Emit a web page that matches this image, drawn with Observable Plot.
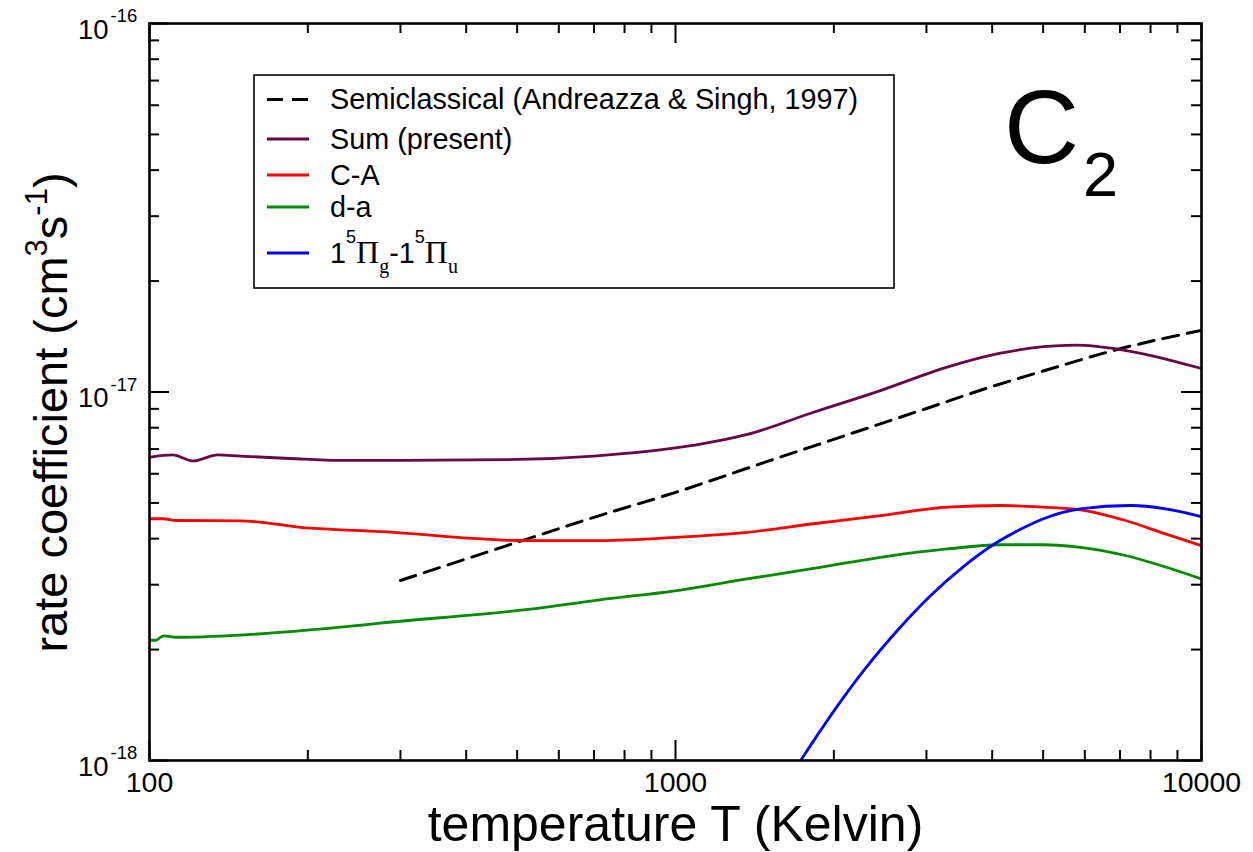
<!DOCTYPE html>
<html>
<head>
<meta charset="utf-8">
<script src="https://cdn.jsdelivr.net/npm/d3@7"></script>
<script src="https://cdn.jsdelivr.net/npm/@observablehq/plot@0.6"></script>
<style>
  html, body { margin: 0; padding: 0; background: #fff; overflow: hidden; }
</style>
</head>
<body>
<div id="chart"></div>
<script>
// Temperatures (K) and rate coefficients (cm^3 s^-1) for each curve
const tSemi = [300, 500, 700, 1000, 1500, 2000, 3000, 4000, 5000, 7000, 10000];
const kSemi = [3.08e-18, 3.91e-18, 4.57e-18, 5.34e-18, 6.49e-18, 7.44e-18, 9.02e-18, 1.035e-17, 1.14e-17, 1.31e-17, 1.47e-17];

const tSum = [100, 110.6, 121.2, 134.7, 148.9, 185, 230.7, 300, 500, 700, 1000, 1115, 1369, 1830, 2453, 3285, 4148, 5007, 5762, 7015, 10000];
const kSum = [6.65e-18, 6.75e-18, 6.50e-18, 6.75e-18, 6.70e-18, 6.60e-18, 6.52e-18, 6.52e-18, 6.56e-18, 6.70e-18, 7.05e-18, 7.22e-18, 7.67e-18, 8.81e-18, 1.009e-17, 1.168e-17, 1.274e-17, 1.327e-17, 1.34e-17, 1.304e-17, 1.158e-17];

const tCA = [100, 106, 112.5, 148.9, 202.3, 274.9, 524.2, 718.6, 1022, 1369, 1830, 2453, 3285, 4148, 5007, 5890, 7172, 8543, 10000];
const kCA = [4.53e-18, 4.53e-18, 4.48e-18, 4.47e-18, 4.27e-18, 4.18e-18, 3.95e-18, 3.95e-18, 4.04e-18, 4.16e-18, 4.39e-18, 4.62e-18, 4.87e-18, 4.92e-18, 4.87e-18, 4.79e-18, 4.48e-18, 4.12e-18, 3.83e-18];

const tDA = [100, 102.7, 106.3, 112.5, 148.9, 230.7, 274.9, 524.2, 718.6, 1022, 1369, 1830, 2453, 3285, 4148, 5007, 5890, 7172, 8543, 10000];
const kDA = [2.12e-18, 2.12e-18, 2.18e-18, 2.16e-18, 2.19e-18, 2.30e-18, 2.36e-18, 2.57e-18, 2.73e-18, 2.90e-18, 3.11e-18, 3.32e-18, 3.56e-18, 3.75e-18, 3.85e-18, 3.85e-18, 3.79e-18, 3.60e-18, 3.35e-18, 3.11e-18];

const tPi = [1583, 1741, 1971, 2277, 2639, 3053, 3528, 4088, 4528, 5007, 5890, 7328, 8543, 10000];
const kPi = [0.816e-18, 1.014e-18, 1.322e-18, 1.751e-18, 2.25e-18, 2.80e-18, 3.36e-18, 3.91e-18, 4.24e-18, 4.53e-18, 4.82e-18, 4.92e-18, 4.82e-18, 4.59e-18];

// Axis ticks
const xMajor = [100, 1000, 10000];
const xMinor = [200, 300, 400, 500, 600, 700, 800, 900, 2000, 3000, 4000, 5000, 6000, 7000, 8000, 9000];
const yMajor = [1e-18, 1e-17, 1e-16];
const yMinor = [2e-18, 3e-18, 4e-18, 5e-18, 6e-18, 7e-18, 8e-18, 9e-18, 2e-17, 3e-17, 4e-17, 5e-17, 6e-17, 7e-17, 8e-17, 9e-17];

const xLabel = "temperature T (Kelvin)";
const moleculeLabel = ["C", "2"];

const rows = (T, K) => T.map((t, i) => ({T: t, k: K[i]}));

const series = [
  {key: "semi", rows: rows(tSemi, kSemi), color: "#000000", width: 3, dash: "16,9"},
  {key: "sum", rows: rows(tSum, kSum), color: "#670748", width: 2.8, dash: null},
  {key: "ca", rows: rows(tCA, kCA), color: "#ff0000", width: 2.8, dash: null},
  {key: "da", rows: rows(tDA, kDA), color: "#008b00", width: 2.8, dash: null},
  {key: "pi", rows: rows(tPi, kPi), color: "#0000ff", width: 2.8, dash: null}
];

const W = 1253, H = 852;
const M = {left: 149, right: 52, top: 23, bottom: 92};
const fw = W - M.left - M.right, fh = H - M.top - M.bottom;
const SANS = "'Liberation Sans', Arial, Helvetica, sans-serif";
const SERIF = "'Liberation Serif', 'Times New Roman', serif";
const majorLen = 20, minorLen = 10;

const tickRule = (vals, len, side) => {
  const o = {stroke: "black", strokeWidth: 2};
  if (side === "bottom") return Plot.ruleX(vals, {x: d => d, insetTop: fh - len, ...o});
  if (side === "top") return Plot.ruleX(vals, {x: d => d, insetBottom: fh - len, ...o});
  if (side === "left") return Plot.ruleY(vals, {y: d => d, insetRight: fw - len, ...o});
  return Plot.ruleY(vals, {y: d => d, insetLeft: fw - len, ...o});
};

const svg = Plot.plot({
  width: W,
  height: H,
  marginLeft: M.left,
  marginRight: M.right,
  marginTop: M.top,
  marginBottom: M.bottom,
  style: {fontFamily: SANS, background: "white", overflow: "visible"},
  x: {type: "log", domain: [100, 10000], axis: null},
  y: {type: "log", domain: [1e-18, 1e-16], axis: null},
  marks: [
    ...series.map(s => Plot.line(s.rows, {
      x: "T", y: "k", stroke: s.color, strokeWidth: s.width,
      strokeDasharray: s.dash, curve: "monotone-x", clip: true
    })),
    // inward ticks on all four sides
    ...["bottom", "top"].flatMap(side => [tickRule(xMajor, majorLen, side), tickRule(xMinor, minorLen, side)]),
    ...["left", "right"].flatMap(side => [tickRule(yMajor, majorLen, side), tickRule(yMinor, minorLen, side)]),
    Plot.frame({stroke: "black", strokeWidth: 2.6}),
    // x tick labels
    Plot.text(xMajor, {x: d => d, frameAnchor: "bottom", text: d => String(d),
      lineAnchor: "top", dy: 11, fontSize: 28.5, fill: "black"}),
    // y tick labels: mantissa and exponent
    Plot.text(yMajor, {y: d => d, frameAnchor: "left", text: () => "10",
      textAnchor: "end", dx: -41, dy: 6.5, fontSize: 27.5, fill: "black"}),
    Plot.text(yMajor, {y: d => d, frameAnchor: "left", text: d => String(Math.round(Math.log10(d))),
      textAnchor: "start", dx: -39, dy: -7, fontSize: 18.5, fill: "black"}),
    // x axis title
    Plot.text([xLabel], {frameAnchor: "bottom", text: d => d, lineAnchor: "bottom",
      dy: 80, fontSize: 50, fill: "black"})
  ]
});

document.getElementById("chart").appendChild(svg);

const root = d3.select(svg).append("g")
  .attr("font-family", SANS).attr("fill", "black").attr("text-anchor", "start");

// y axis title with superscripted units
const yTitle = root.append("text")
  .attr("transform", `translate(67,${M.top + fh / 2 + 21}) rotate(-90)`)
  .attr("text-anchor", "middle")
  .attr("font-size", 47);
yTitle.append("tspan").text("rate coefficient (cm");
yTitle.append("tspan").attr("font-size", 31).attr("dy", -20).text("3");
yTitle.append("tspan").attr("dy", 20).text("s");
yTitle.append("tspan").attr("font-size", 31).attr("dy", -20).text("-1");
yTitle.append("tspan").attr("dy", 20).text(")");

// molecule label
const mol = root.append("text").attr("x", 1004).attr("y", 163).attr("font-size", 104);
mol.append("tspan").text(moleculeLabel[0]);
mol.append("tspan").attr("font-size", 63).attr("dx", 4).attr("dy", 33).text(moleculeLabel[1]);

// legend
const legend = root.append("g");
legend.append("rect")
  .attr("x", 254).attr("y", 75).attr("width", 640).attr("height", 213)
  .attr("fill", "white").attr("stroke", "black").attr("stroke-width", 1.6);

const legendRows = [
  {key: "semi", y: 99.5},
  {key: "sum", y: 139},
  {key: "ca", y: 175},
  {key: "da", y: 207},
  {key: "pi", y: 253}
];
const legendText = {
  semi: "Semiclassical (Andreazza & Singh, 1997)",
  sum: "Sum (present)",
  ca: "C-A",
  da: "d-a"
};
const FS = 28.8;
for (const r of legendRows) {
  const s = series.find(d => d.key === r.key);
  legend.append("line")
    .attr("x1", 267).attr("x2", 309).attr("y1", r.y).attr("y2", r.y)
    .attr("stroke", s.color).attr("stroke-width", s.width)
    .attr("stroke-dasharray", s.dash);
  const t = legend.append("text").attr("x", 330).attr("y", r.y + 9.5).attr("font-size", FS);
  if (r.key !== "pi") {
    t.text(legendText[r.key]);
  } else {
    const parts = [
      ["1", SANS, FS, 0],
      ["5", SANS, 18, -20],
      ["\u03A0", SERIF, 32, 0],
      ["g", SERIF, 20, 10],
      ["-1", SANS, FS, 0],
      ["5", SANS, 18, -20],
      ["\u03A0", SERIF, 32, 0],
      ["u", SERIF, 20, 10]
    ];
    let prev = 0;
    for (const [txt, ff, fs, shift] of parts) {
      t.append("tspan").attr("font-family", ff).attr("font-size", fs)
        .attr("dy", shift - prev).text(txt);
      prev = shift;
    }
  }
}
</script>
</body>
</html>
